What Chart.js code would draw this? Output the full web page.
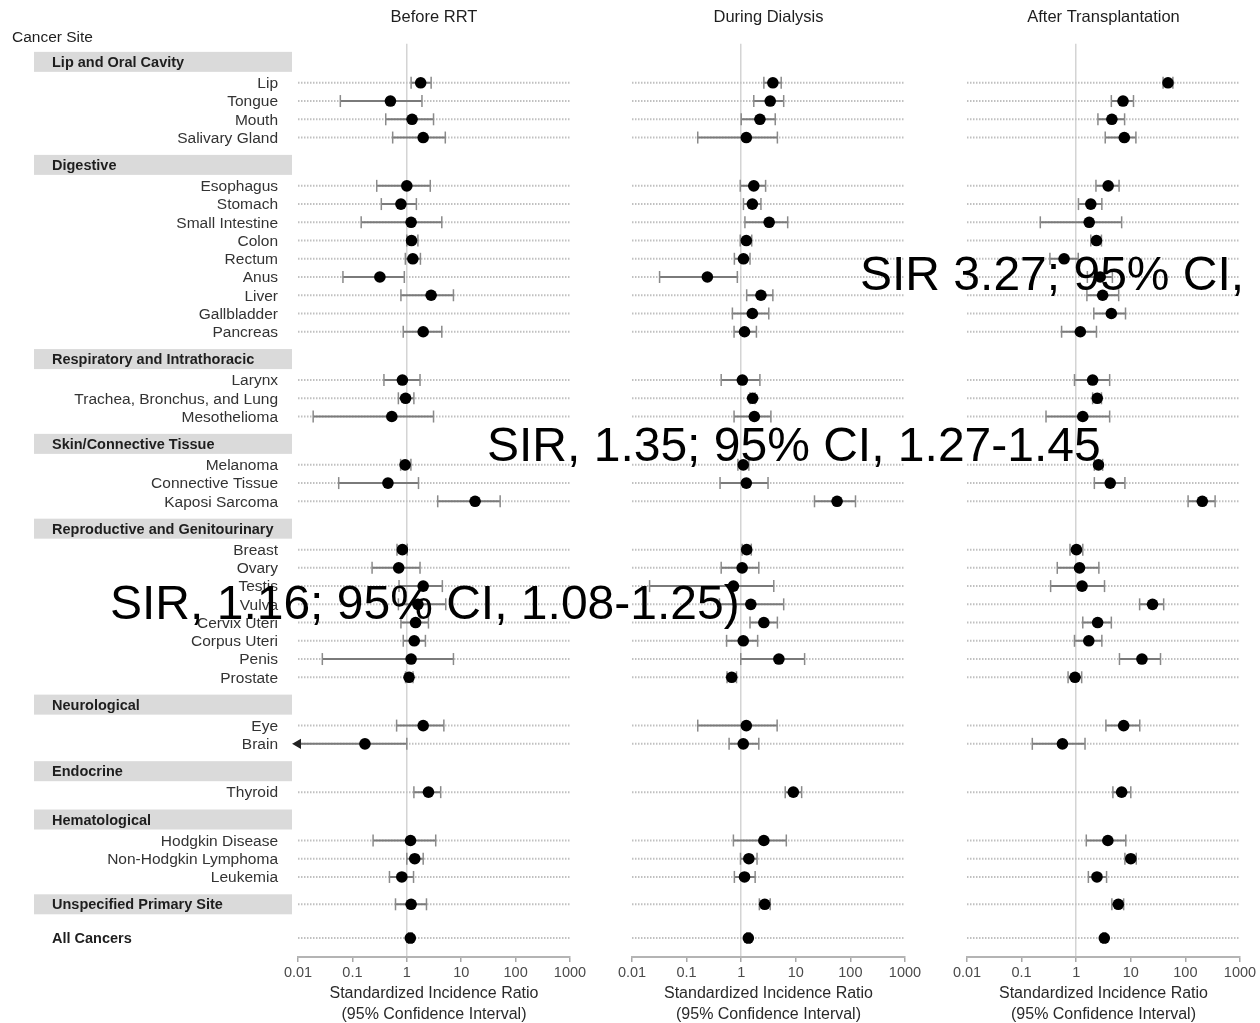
<!DOCTYPE html>
<html><head><meta charset="utf-8">
<script src="https://cdn.jsdelivr.net/npm/chart.js@4.4.1/dist/chart.umd.min.js"></script>
<style>
html,body{margin:0;padding:0;background:#fff;width:1260px;height:1023px;overflow:hidden;}
body{position:relative;font-family:"Liberation Sans",Arial,sans-serif;}
canvas{position:absolute;top:0;}
.note{position:absolute;font-size:48px;font-family:"Liberation Sans",Arial,sans-serif;color:#000;white-space:nowrap;line-height:48px;z-index:5;}
</style></head><body>
<canvas id="c0" width="600" height="1023" style="left:0"></canvas>
<canvas id="c1" width="330" height="1023" style="left:600px"></canvas>
<canvas id="c2" width="325" height="1023" style="left:935px"></canvas>
<div class="note" style="left:860px;top:250px">SIR 3.27; 95% CI,</div>
<div class="note" style="left:487px;top:421px">SIR, 1.35; 95% CI, 1.27-1.45</div>
<div class="note" style="left:110px;top:579px">SIR, 1.16; 95% CI, 1.08-1.25)</div>
<script>
// ---------------- DATA ----------------
const groups = ['Lip and Oral Cavity','Digestive','Respiratory and Intrathoracic','Skin/Connective Tissue',
  'Reproductive and Genitourinary','Neurological','Endocrine','Hematological','Unspecified Primary Site','All Cancers'];
const sites = ['Lip','Tongue','Mouth','Salivary Gland',
  'Esophagus','Stomach','Small Intestine','Colon','Rectum','Anus','Liver','Gallbladder','Pancreas',
  'Larynx','Trachea, Bronchus, and Lung','Mesothelioma',
  'Melanoma','Connective Tissue','Kaposi Sarcoma',
  'Breast','Ovary','Testis','Vulva','Cervix Uteri','Corpus Uteri','Penis','Prostate',
  'Eye','Brain','Thyroid','Hodgkin Disease','Non-Hodgkin Lymphoma','Leukemia',
  'Unspecified Primary Site','All Cancers'];
const siteGroup = [0,0,0,0, 1,1,1,1,1,1,1,1,1, 2,2,2, 3,3,3, 4,4,4,4,4,4,4,4, 5,5, 6, 7,7,7, 8, 9];

const panelTitles = ['Before RRT','During Dialysis','After Transplantation'];
const axisTitle = ['Standardized Incidence Ratio','(95% Confidence Interval)'];
const xTicks = [0.01,0.1,1,10,100,1000];
const xTickLabels = ['0.01','0.1','1','10','100','1000'];

// Before RRT
const beforeSIR = [1.8,0.5,1.25,2.0, 1.0,0.78,1.2,1.22,1.29,0.32,2.8,null,2.0, 0.83,0.95,0.53, 0.93,0.45,18,
  0.83,0.71,2.0,1.6,1.45,1.37,1.2,1.1, 2.0,0.17, 2.5, 1.17,1.4,0.81, 1.2, 1.16];
const beforeLo = [1.2,0.06,0.41,0.55, 0.28,0.34,0.145,1.0,0.94,0.067,0.78,null,0.86, 0.38,0.7,0.019, 0.77,0.056,3.7,
  0.66,0.23,0.72,0.7,0.78,0.86,0.028,0.95, 0.65,0.005, 1.35, 0.24,1.0,0.48, 0.62, 1.08];
const beforeHi = [2.8,1.9,3.1,5.1, 2.7,1.5,4.4,1.6,1.78,0.9,7.2,null,4.4, 1.75,1.35,3.1, 1.19,1.64,52,
  1.02,1.75,4.5,5.2,2.5,2.2,7.2,1.3, 4.8,1.0, 4.2, 3.4,2.0,1.33, 2.3, 1.25];

// During Dialysis
const dialSIR = [3.8,3.4,2.2,1.24, 1.7,1.6,3.25,1.24,1.1,0.24,2.3,1.6,1.15, 1.05,1.62,1.74, 1.09,1.24,57,
  1.26,1.04,0.72,1.5,2.6,1.09,4.9,0.67, 1.24,1.09, 9.0, 2.6,1.38,1.15, 2.7, 1.35];
const dialLo = [2.6,1.7,1.0,0.16, 0.96,1.1,1.17,0.96,0.75,0.032,1.26,0.69,0.74, 0.43,1.45,0.74, 0.87,0.41,22,
  1.04,0.43,0.021,0.4,1.45,0.54,0.98,0.55, 0.16,0.6, 6.4, 0.72,0.97,0.75, 2.15, 1.27];
const dialHi = [5.4,6.0,4.2,4.6, 2.8,2.3,7.1,1.56,1.45,0.85,3.8,3.2,1.9, 2.2,1.8,3.5, 1.38,3.1,124,
  1.53,2.1,3.95,6.0,4.6,2.0,14.5,0.82, 4.55,2.1, 12.8, 6.7,1.95,1.8, 3.4, 1.45];

// After Transplantation
const transSIR = [48,7.2,4.5,7.6, 3.85,1.85,1.73,2.35,0.6,2.75,3.05,4.4,1.19, 2.0,2.43,1.32, 2.56,4.2,204,
  1.01,1.15,1.28,25,2.47,1.7,16,0.95, 7.4,0.56, 6.8, 3.8,10,2.4, 5.9, 3.27];
const transLo = [39,4.4,2.5,3.4, 2.3,1.1,0.22,1.85,0.33,1.6,1.57,2.1,0.54, 0.93,2.0,0.28, 2.15,2.15,112,
  0.77,0.45,0.34,14.5,1.32,0.93,6.2,0.71, 3.5,0.157, 4.7, 1.53,7.8,1.67, 4.5, 3.1];
const transHi = [59,11.2,7.7,12.4, 6.1,2.95,6.8,2.9,1.09,4.6,6.0,8.0,2.35, 4.1,2.9,4.1, 3.05,7.8,350,
  1.32,2.6,3.3,40,4.4,2.95,35,1.26, 14.6,1.45, 10, 8.1,12.6,3.6, 7.4, 3.45];

// ---------------- LAYOUT (row positions from group structure) ----------------
const XMIN = 0.01, XMAX = 1000;
const HEAD_TO_ROW = 1.15, GROUP_GAP = 1.5, FINAL_GAP = 1.85;
const rowPos = [], headPos = [], inlineHead = [];
let cur = 0;
groups.forEach((g, gi) => {
  const idx = sites.map((s, i) => i).filter(i => siteGroup[i] === gi);
  if (gi > 0) cur += (gi === groups.length - 1 ? FINAL_GAP : GROUP_GAP);
  const inline = idx.length === 1 && sites[idx[0]] === g;
  inlineHead[gi] = inline;
  headPos[gi] = cur;
  if (inline) { rowPos[idx[0]] = cur; }
  else { cur += HEAD_TO_ROW; idx.forEach((i, k) => { if (k > 0) cur += 1; rowPos[i] = cur; }); }
});
const Y_MIN = -0.99, Y_MAX = 49.09;

const FONT = '"Liberation Sans", Arial, sans-serif';
Chart.defaults.font.family = FONT;

const labelPlugin = {
  id: 'siteLabels',
  afterDraw(chart) {
    if (!chart.options.plugins.siteLabels || !chart.options.plugins.siteLabels.show) return;
    const ctx = chart.ctx, ys = chart.scales.y;
    ctx.save();
    ctx.textBaseline = 'middle';
    ctx.fillStyle = '#1e1e1e';
    ctx.textAlign = 'left';
    ctx.font = '15.5px ' + FONT;
    ctx.fillText('Cancer Site', 12, 38);
    groups.forEach((g, gi) => {
      const py = ys.getPixelForValue(headPos[gi]);
      if (gi !== groups.length - 1) {
        ctx.fillStyle = '#dadada';
        ctx.fillRect(34, py - 10, 258, 20);
      }
      ctx.fillStyle = '#1e1e1e';
      ctx.font = 'bold 14.5px ' + FONT;
      ctx.textAlign = 'left';
      ctx.fillText(g, 52, py + 1);
    });
    ctx.font = '15.5px ' + FONT;
    ctx.fillStyle = '#333';
    ctx.textAlign = 'right';
    sites.forEach((s, i) => {
      if (inlineHead[siteGroup[i]]) return;
      ctx.fillText(s, 278, ys.getPixelForValue(rowPos[i]) + 1);
    });
    ctx.restore();
  }
};

function buildPanel(id, k, sir, lo, hi, padLeft, padRight, showLabels) {
  const guide = [];
  sites.forEach((s, i) => { guide.push({x: XMIN, y: rowPos[i]}, {x: XMAX, y: rowPos[i]}, {x: XMIN, y: null}); });
  const ci = [], st = [], rot = [], rad = [], bg = [], bc = [];
  sites.forEach((s, i) => {
    if (sir[i] == null) return;
    const clipped = lo[i] < XMIN;
    ci.push({x: clipped ? XMIN : lo[i], y: rowPos[i]});
    st.push(clipped ? 'triangle' : 'line'); rot.push(clipped ? 270 : 90); rad.push(clipped ? 4.5 : 6);
    bg.push('#222'); bc.push(clipped ? '#222' : '#8a8a8a');
    ci.push({x: hi[i], y: rowPos[i]});
    st.push('line'); rot.push(90); rad.push(6); bg.push('#222'); bc.push('#8a8a8a');
    ci.push({x: hi[i], y: null});
    st.push('line'); rot.push(0); rad.push(0); bg.push('#222'); bc.push('#8a8a8a');
  });
  const pts = [];
  sites.forEach((s, i) => { if (sir[i] != null) pts.push({x: sir[i], y: rowPos[i]}); });

  return new Chart(document.getElementById(id), {
    type: 'scatter',
    data: { datasets: [
      { type: 'scatter', data: pts, order: 1, pointRadius: 5.8, pointBackgroundColor: '#000', pointBorderWidth: 0, clip: false },
      { type: 'line', data: ci, order: 2, showLine: true, spanGaps: false, borderColor: '#7a7a7a', borderWidth: 2,
        pointStyle: st, pointRotation: rot, pointRadius: rad, pointBackgroundColor: bg, pointBorderColor: bc,
        pointBorderWidth: 1.5, clip: false },
      { type: 'line', data: guide, order: 3, showLine: true, spanGaps: false, borderColor: '#c0c0c0', borderWidth: 2,
        borderDash: [1.5, 1.5], pointRadius: 0 }
    ]},
    options: {
      responsive: false, animation: false, events: [],
      layout: { padding: { left: padLeft, right: padRight, top: 0, bottom: 0 } },
      plugins: {
        legend: { display: false }, tooltip: { enabled: false },
        title: { display: true, text: panelTitles[k], color: '#1e1e1e', font: { size: 16.5, weight: 'normal' },
          padding: { top: 8, bottom: 16 } },
        siteLabels: { show: showLabels }
      },
      scales: {
        x: {
          type: 'logarithmic', min: XMIN, max: XMAX,
          afterBuildTicks: s => { s.ticks = xTicks.map(v => ({ value: v })); },
          afterFit: s => { s.height = 66; },
          ticks: { autoSkip: false, maxRotation: 0, padding: 2, color: '#4a4a4a', font: { size: 14.5 },
            callback: (v, i) => xTickLabels[i] },
          grid: { color: c => (c.tick && c.tick.value === 1) ? '#d4d4d4' : 'rgba(0,0,0,0)', lineWidth: 1.5,
            tickColor: '#a8a8a8', tickLength: 5, drawTicks: true },
          border: { display: true, color: '#b4b4b4', width: 2 },
          title: { display: true, text: axisTitle, color: '#2a2a2a', font: { size: 16, lineHeight: 1.3 }, padding: { top: 0, bottom: -2 } }
        },
        y: { type: 'linear', display: false, reverse: true, min: Y_MIN, max: Y_MAX }
      }
    },
    plugins: [labelPlugin]
  });
}

buildPanel('c0', 0, beforeSIR, beforeLo, beforeHi, 298, 30, true);
buildPanel('c1', 1, dialSIR, dialLo, dialHi, 32, 25, false);
buildPanel('c2', 2, transSIR, transLo, transHi, 32, 20, false);
</script>
</body></html>
